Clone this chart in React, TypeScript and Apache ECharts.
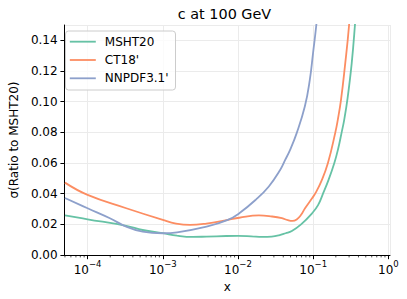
import React, { useEffect, useRef } from "react";
import * as echarts from "echarts";

const seriesNames = ["MSHT20", "CT18'", "NNPDF3.1'"];
const seriesColors = ["#66c2a5", "#fc8d62", "#8da0cb"];

const xMSHT = [5e-5, 1e-4, 3.27e-4, 5.4e-4, 1e-3, 1.55e-3, 2.5e-3, 3.8e-3, 7e-3, 1e-2, 1.5e-2, 2.1e-2, 2.8e-2, 3.5e-2, 4.3e-2, 5.2e-2, 6.9e-2, 0.0966, 0.116, 0.135, 0.16, 0.191, 0.214, 0.239, 0.258, 0.286, 0.325, 0.359, 0.39];
const yMSHT = [0.0258, 0.0233, 0.019, 0.0163, 0.0142, 0.0126, 0.0118, 0.012, 0.0124, 0.0125, 0.0122, 0.0118, 0.012, 0.0128, 0.0142, 0.0157, 0.02, 0.0272, 0.0325, 0.04, 0.049, 0.06, 0.069, 0.08, 0.088, 0.102, 0.125, 0.15, 0.175];

const xCT = [5e-5, 1e-4, 3.27e-4, 1e-3, 1.5e-3, 2.3e-3, 3.8e-3, 7.3e-3, 1.04e-2, 1.9e-2, 2.84e-2, 3.84e-2, 4.6e-2, 5.3e-2, 6.03e-2, 6.9e-2, 7.75e-2, 0.0966, 0.1075, 0.128, 0.157, 0.197, 0.212, 0.234, 0.264, 0.3, 0.33];
const yCT = [0.0472, 0.0392, 0.0305, 0.0229, 0.0205, 0.0196, 0.0205, 0.0229, 0.0243, 0.0258, 0.0251, 0.024, 0.0227, 0.0222, 0.0232, 0.0262, 0.0303, 0.037, 0.0405, 0.048, 0.06, 0.08, 0.088, 0.101, 0.123, 0.15, 0.18];

const xNN = [5e-5, 1e-4, 1.98e-4, 3.27e-4, 5.4e-4, 1e-3, 1.55e-3, 3.82e-3, 7.33e-3, 1.04e-2, 1.72e-2, 2.57e-2, 3.65e-2, 4.24e-2, 4.93e-2, 6.03e-2, 7.75e-2, 9e-2, 9.97e-2, 0.11, 0.12];
const yNN = [0.0372, 0.0305, 0.024, 0.0185, 0.0152, 0.0142, 0.0148, 0.0185, 0.0229, 0.0272, 0.036, 0.0447, 0.0556, 0.062, 0.0686, 0.0795, 0.097, 0.114, 0.132, 0.15, 0.17];

const minorTickDecades = [1e-5, 1e-4, 1e-3, 1e-2, 1e-1];
const minorTickMultipliers = [2, 3, 4, 5, 6, 7, 8, 9];

const X_MIN = 4.95e-5;
const X_MAX = 1.05;

export default function App() {
  const ref = useRef<HTMLDivElement>(null);
  useEffect(() => {
    if (!ref.current) return;
    const chart = echarts.init(ref.current, null, { renderer: "svg" });
    const font = "DejaVu Sans";
    const minor: number[][] = [];
    minorTickDecades.forEach((d) =>
      minorTickMultipliers.forEach((m) => {
        const v = d * m;
        if (v >= X_MIN && v <= X_MAX) minor.push([v, 0]);
      })
    );
    const mk = (xs: number[], ys: number[]) => xs.map((x, i) => [x, ys[i]]);
    const datas = [mk(xMSHT, yMSHT), mk(xCT, yCT), mk(xNN, yNN)];
    const supMap: Record<string, string> = { "-": "−" };
    chart.setOption({
      animation: false,
      textStyle: { fontFamily: font },
      graphic: [
        {
          type: "text",
          x: 224.5,
          y: 14,
          style: {
            text: "c at 100 GeV",
            font: `14.4px ${font}`,
            fill: "#000",
            textAlign: "center",
            textVerticalAlign: "middle",
          },
        },
      ],
      grid: { left: 59, right: 17, top: 25, bottom: 44 },
      legend: {
        data: seriesNames,
        orient: "vertical",
        left: 65.5,
        top: 31,
        icon: "rect",
        itemWidth: 26,
        itemHeight: 1.8,
        itemGap: 4.3,
        padding: [3.7, 7, 4.7, 4.3],
        backgroundColor: "rgba(255,255,255,0.8)",
        borderColor: "#cccccc",
        borderWidth: 1,
        borderRadius: 3,
        textStyle: { fontFamily: font, fontSize: 12, color: "#000", lineHeight: 14, padding: [0, 0, 0, 4] },
      },
      xAxis: {
        type: "log",
        logBase: 10,
        min: X_MIN,
        max: X_MAX,
        name: "x",
        nameLocation: "middle",
        nameGap: 22,
        nameTextStyle: { fontFamily: font, fontSize: 12, color: "#000" },
        axisLine: { lineStyle: { color: "#000", width: 1 } },
        axisTick: { length: 4.2, lineStyle: { color: "#000", width: 1 } },
        splitLine: { show: true, lineStyle: { color: "#ebebeb", width: 1 } },
        axisLabel: {
          showMinLabel: false,
          showMaxLabel: false,
          margin: 4,
          formatter: (v: number) => {
            const e = Math.round(Math.log10(v));
            const s = String(e).split("").map((c) => supMap[c] || c).join("");
            return `{b|10}{s|${s}}`;
          },
          rich: {
            b: { fontFamily: font, fontSize: 12, color: "#000", verticalAlign: "bottom", lineHeight: 17 },
            s: { fontFamily: font, fontSize: 8.5, color: "#000", verticalAlign: "top", lineHeight: 17 },
          },
        },
      },
      yAxis: {
        type: "value",
        min: 0,
        max: 0.15,
        interval: 0.02,
        name: "σ(Ratio to MSHT20)",
        nameLocation: "middle",
        nameGap: 40,
        nameTextStyle: { fontFamily: font, fontSize: 12, color: "#000" },
        axisLine: { show: true, lineStyle: { color: "#000", width: 1 } },
        axisTick: { show: true, length: 4.2, lineStyle: { color: "#000", width: 1 } },
        splitLine: { show: true, lineStyle: { color: "#ebebeb", width: 1 } },
        axisLabel: {
          showMaxLabel: false,
          margin: 7,
          fontFamily: font,
          fontSize: 12,
          color: "#000",
          formatter: (v: number) => v.toFixed(2),
        },
      },
      series: [
        ...seriesNames.map((n, i) => ({
          name: n,
          type: "line",
          data: datas[i],
          symbol: "none",
          smooth: 0.45,
          lineStyle: { color: seriesColors[i], width: 1.8 },
          itemStyle: { color: seriesColors[i] },
          clip: true,
          z: 3,
        })),
        {
          type: "custom",
          data: minor,
          clip: false,
          silent: true,
          renderItem: (params: any, api: any) => {
            const p = api.coord([api.value(0), 0]);
            return {
              type: "line",
              shape: { x1: p[0], y1: p[1], x2: p[0], y2: p[1] + 2.4 },
              style: { stroke: "#000", lineWidth: 0.7 },
            };
          },
        },
      ],
    });
    return () => chart.dispose();
  }, []);
  return <div ref={ref} style={{ width: 407, height: 299, position: "absolute", left: 0, top: 0 }} />;
}
